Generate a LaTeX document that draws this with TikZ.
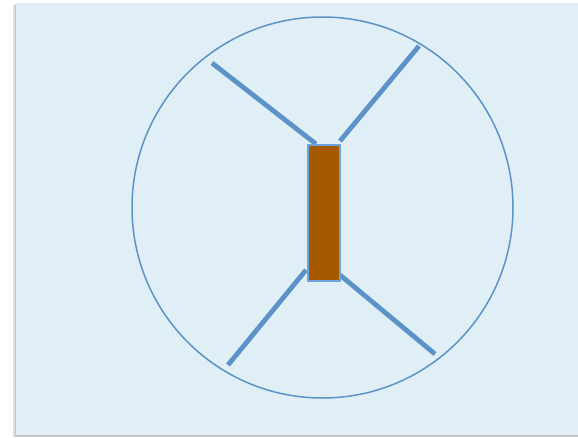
\documentclass[tikz,border=0pt]{standalone}
\definecolor{bgblue}{HTML}{E0EFF5}
\definecolor{lineblue}{HTML}{5B93C9}
\definecolor{boxbrown}{HTML}{A65A00}
\definecolor{boxedge}{HTML}{6FA3DC}
\tikzset{
  spoke/.style={draw=lineblue, line width=4.8pt},
  body/.style={draw=boxedge, line width=2pt, fill=boxbrown, minimum width=32pt, minimum height=136pt, inner sep=0pt},
}
\begin{document}
\begin{tikzpicture}[x=1pt,y=-1pt]
\useasboundingbox (0,0) rectangle (578,437);
\fill[white] (0,0) rectangle (578,437);
\fill[gray!25] (13,5) rectangle (578,437);
\fill[gray!45] (15,4) rectangle (578,436.5);
\fill[bgblue] (16,3) rectangle (578,435);
\draw[lineblue, line width=1.5pt] (322.5,207.5) circle (190.5);
\node[body] (box) at (323.5,212.5) {};
\coordinate (tl) at (212,63);
\coordinate (tr) at (419,46);
\coordinate (bl) at (228,365);
\coordinate (br) at (435,354);
\coordinate (a1) at (316,144);
\coordinate (a2) at (340,141);
\coordinate (a3) at (306,270);
\coordinate (a4) at (340,275);
\draw[spoke] (tl) -- (a1);
\draw[spoke] (tr) -- (a2);
\draw[spoke] (bl) -- (a3);
\draw[spoke] (br) -- (a4);
\node[body] at (box) {};
\end{tikzpicture}
\end{document}
